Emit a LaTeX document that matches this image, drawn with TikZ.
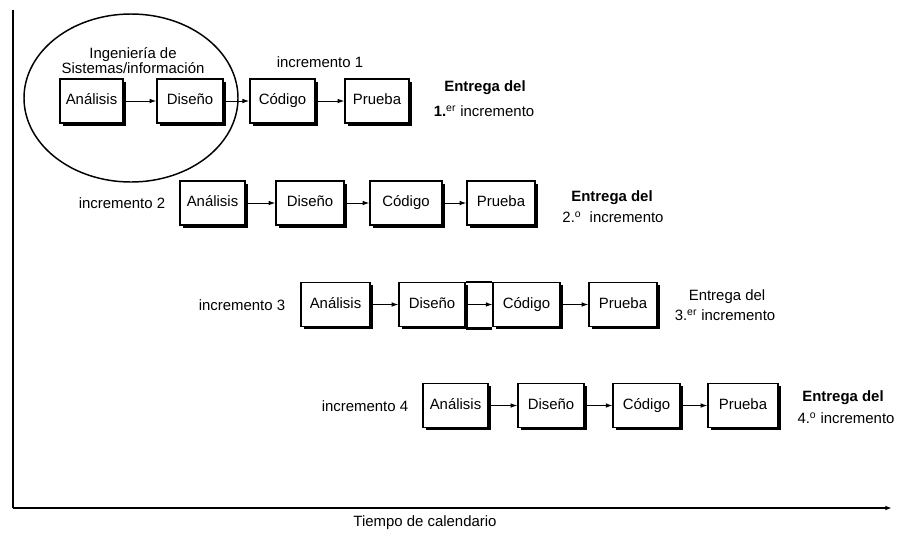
\documentclass[tikz,border=0pt]{standalone}
\usepackage{fontspec}
\setmainfont{Liberation Sans}
\usetikzlibrary{arrows.meta,shadows}
\begin{document}
\begin{tikzpicture}[x=0.75pt,y=-0.75pt,
  every node/.style={font=\fontsize{11.2}{11.3}\selectfont, inner sep=0pt},
  blk/.style={draw, line width=1.1pt, fill=white, minimum height=33pt,
    text height=8.2pt, text depth=2.6pt,
    drop shadow={shadow xshift=2.2pt, shadow yshift=-2.2pt, opacity=1, fill=black}},
  arr/.style={line width=0.7pt, -{Latex[length=5pt,width=3.5pt]}},
  axisline/.style={line width=1.2pt},
  bold/.style={font=\fontsize{11.2}{11.3}\selectfont\bfseries}
]
\useasboundingbox (0,0) rectangle (899,533);

% axes
\coordinate (ytop) at (13,10);
\coordinate (orig) at (13,508);
\coordinate (xend) at (892,508);
\draw[axisline] (ytop) -- (orig);
\draw[axisline, -{Latex[length=5pt,width=3.5pt]}] (orig) -- (xend);
\node (tiempo) at (425,523) {Tiempo de calendario};

% row 1
\node[blk, minimum width=47.5pt] (A1) at (91.5,101) {Análisis};
\node[blk, minimum width=49.5pt] (D1) at (190,101) {Diseño};
\node[blk, minimum width=49pt] (C1) at (282.5,101) {Código};
\node[blk, minimum width=48pt] (P1) at (377,101) {Prueba};
\draw[arr] (A1) -- (D1);
\draw[arr] (D1) -- (C1);
\draw[arr] (C1) -- (P1);
\draw[line width=1.1pt] (131,98) ellipse [x radius=80.25pt, y radius=63pt];
\node[align=center] (ing) at (133,60.5) {Ingeniería de\\Sistemas/información};
\node (inc1) at (320,62) {incremento 1};
\node[bold] (e1a) at (485,88) {Entrega del};
\node (e1b) at (484,111) {\textbf{1.}\textsuperscript{er} incremento};

% row 2
\node (inc2) at (122,203) {incremento 2};
\node[blk, minimum width=49pt] (A2) at (212.5,203) {Análisis};
\node[blk, minimum width=51pt] (D2) at (310,203) {Diseño};
\node[blk, minimum width=54pt] (C2) at (406,203) {Código};
\node[blk, minimum width=51pt] (P2) at (501,203) {Prueba};
\draw[arr] (A2) -- (D2);
\draw[arr] (D2) -- (C2);
\draw[arr] (C2) -- (P2);
\node[bold] (e2a) at (612,198) {Entrega del};
\node (e2b) at (613,217) {2.\textsuperscript{o}\ \ incremento};

% row 3
\node (inc3) at (242,305) {incremento 3};
\node[blk, minimum width=52pt] (A3) at (335.5,304.5) {Análisis};
\node[blk, minimum width=49.5pt] (D3) at (432,304.5) {Diseño};
\node[blk, minimum width=50pt] (C3) at (526.5,304.5) {Código};
\node[blk, minimum width=51pt] (P3) at (623,304.5) {Prueba};
\fill[black] ([yshift=-2.2pt]D3.south east) rectangle (C3.south west);
\draw[line width=1.1pt] (D3.north east) -- (C3.north west);
\draw[line width=1.1pt] (D3.south east) -- (C3.south west);
\draw[arr] (A3) -- (D3);
\draw[arr] (D3) -- (C3);
\draw[arr] (C3) -- (P3);
\node (e3a) at (727,297) {Entrega del};
\node (e3b) at (725,315) {3.\textsuperscript{er} incremento};

% row 4
\node (inc4) at (365,406) {incremento 4};
\node[blk, minimum width=49pt] (A4) at (455.5,405.5) {Análisis};
\node[blk, minimum width=49.5pt] (D4) at (551,405.5) {Diseño};
\node[blk, minimum width=50pt] (C4) at (646.5,405.5) {Código};
\node[blk, minimum width=52.5pt] (P4) at (743,405.5) {Prueba};
\draw[arr] (A4) -- (D4);
\draw[arr] (D4) -- (C4);
\draw[arr] (C4) -- (P4);
\node[bold] (e4a) at (843,398) {Entrega del};
\node (e4b) at (846,418) {4.\textsuperscript{o} incremento};
\end{tikzpicture}
\end{document}
